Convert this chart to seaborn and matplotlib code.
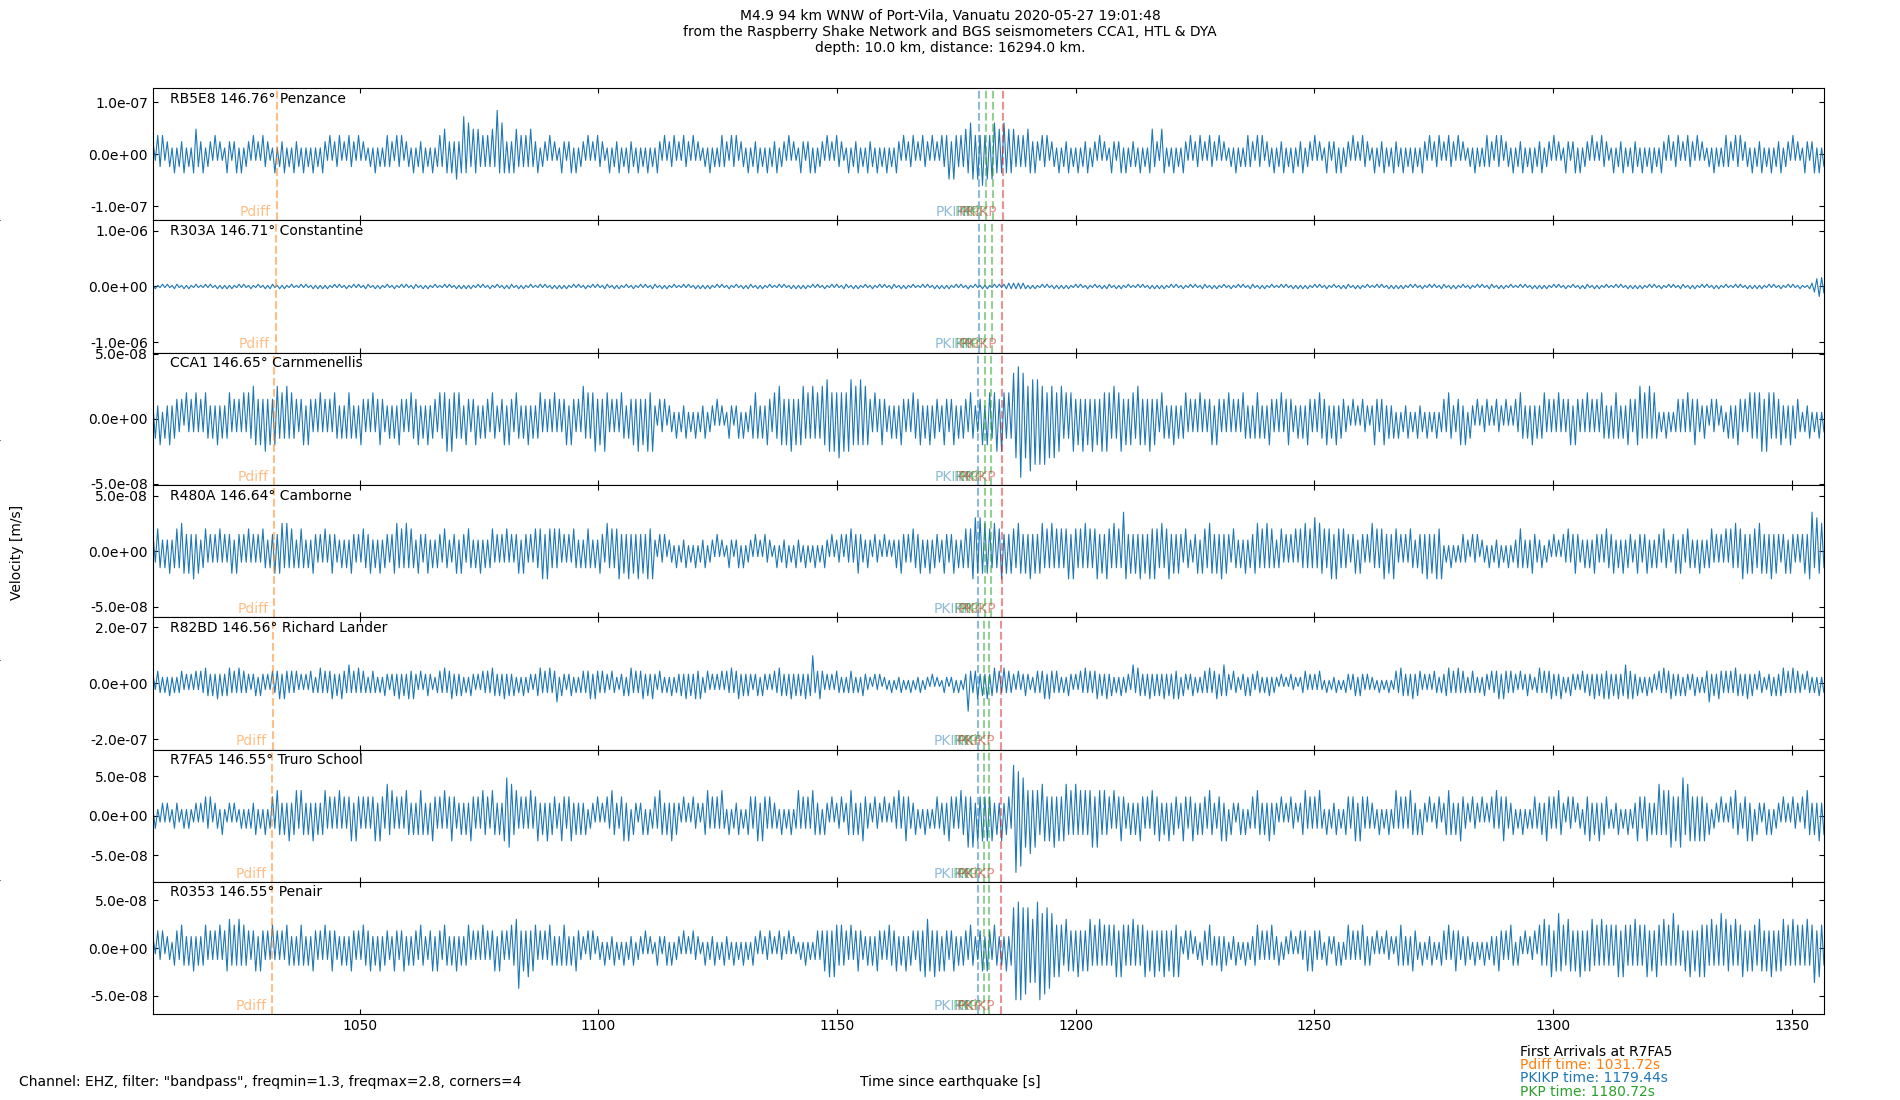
import numpy as np
import matplotlib
matplotlib.use("Agg")
import matplotlib.pyplot as plt
import seaborn as sns
from matplotlib.ticker import FormatStrFormatter

# ---------------- data ----------------
T_START = 1006.72
T_END = 1356.72

STATIONS = ["RB5E8", "R303A", "CCA1", "R480A", "R82BD", "R7FA5", "R0353"]
DISTANCES = [146.76, 146.71, 146.65, 146.64, 146.56, 146.55, 146.55]
PLACES = ["Penzance", "Constantine", "Carnmenellis", "Camborne",
          "Richard Lander", "Truro School", "Penair"]

# y-axis half range and tick value per station (m/s)
Y_HALF = [1.27e-7, 1.19e-6, 5.08e-8, 5.95e-8, 2.36e-7, 8.4e-8, 6.9e-8]
Y_TICK = [1.0e-7, 1.0e-6, 5.0e-8, 5.0e-8, 2.0e-7, 5.0e-8, 5.0e-8]

# arrival times per station (s)
PDIFF = [1032.65, 1032.43, 1032.16, 1032.12, 1031.76, 1031.72, 1031.72]
PKIKP = [1179.84, 1179.74, 1179.63, 1179.61, 1179.46, 1179.44, 1179.44]
PKP_A = [1181.20, 1181.08, 1180.95, 1180.93, 1180.74, 1180.72, 1180.72]
PKP_B = [1182.70, 1182.48, 1182.23, 1182.19, 1181.84, 1181.80, 1181.80]
PKIKP_INNER = [1184.75, 1184.63, 1184.49, 1184.46, 1184.27, 1184.25, 1184.25]

# peak amplitudes, one digit per half second
# (successive peaks alternate in sign), in units of AMP_UNIT (m/s)
AMP_UNIT = [1.2e-8, 2.0e-8, 5.0e-9, 5.0e-9, 1.1e-8, 8.0e-9, 6.0e-9]

TRACE_RB5E8 = [
    "2132312213", "1223121342", "2312213121", "1321231312", "2131213221",
    "1312231213", "2213121312", "1321312231", "2132213121", "1213121232",
    "2132312213", "1223121312", "3243232423", "6352434232", "3242735323",
    "2342323242", "2312213121", "1321231312", "2131213221", "1312231213",
    "2213121312", "1321312231", "2132213121", "1213121232", "2132312213",
    "1223121312", "2312213121", "1321231312", "2131213221", "1312231213",
    "2213121312", "1321312231", "2132213121", "3234243232", "4354343534",
    "3453435343", "4232324323", "2132312213", "1223121312", "2312213121",
    "1321231312", "2213121342", "2143121312", "1321312231", "2132213121",
    "1213121232", "2132312213", "1223121312", "2312213121", "1321231312",
    "2131213221", "1312231213", "2213121312", "1321312231", "2132213121",
    "1213121232", "2132312213", "1223121312", "2312213121", "1321231312",
    "2131213221", "1312231213", "2213121312", "1321312231", "2132213121",
    "1213121232", "2132312213", "1223121312", "2312213121", "1321231312"]
TRACE_R303A = [
    "1211212112", "2112121121", "1121211212", "1212112121", "1211211212",
    "2112121121", "1121211212", "1212112121", "1211212112", "2112121121",
    "1211212112", "2112121121", "1121211212", "1212112121", "1211211212",
    "2112121121", "1121211212", "1212112121", "1211212112", "2112121121",
    "1211212112", "2112121121", "1121211212", "1212112121", "1211211212",
    "2112121121", "1121211212", "1212112121", "1211212112", "2112121121",
    "1211212112", "2112121121", "1121211212", "1212112121", "1211211212",
    "1121212232", "3232321212", "1121211212", "1212112121", "1211211212",
    "2112121121", "1121211212", "1212112121", "1211212112", "2112121121",
    "1211212112", "2112121121", "1121211212", "1212112121", "1211211212",
    "2112121121", "1121211212", "1212112121", "1211212112", "2112121121",
    "1211212112", "2112121121", "1121211212", "1212112121", "1211211212",
    "2112121121", "1121211212", "1212112121", "1211212112", "2112121121",
    "2112121121", "1121211212", "1212112121", "1211212112", "1112357986"]
TRACE_CCA1 = [
    "2324132423", "3231423242", "3243232423", "2342323242", "4354343534",
    "3453435343", "3234243232", "4232324323", "2343232432", "3242343223",
    "2324323243", "3423242332", "4345354343", "2432342323", "3243223424",
    "3243232423", "2342323242", "3234243232", "5343453435", "4232324323",
    "3435343545", "2132312213", "1223121312", "2312213121", "1321231312",
    "2343232432", "4354343534", "3453435343", "5465454645", "4564546454",
    "3242343223", "2324323243", "3423242332", "2432342323", "3243223424",
    "4345354343", "7689765867", "6757465645", "5343453435", "3435343545",
    "4353453434", "4354343534", "3243232423", "2342323242", "3234243232",
    "4232324323", "2343232432", "3242343223", "2324323243", "3423242332",
    "2131213221", "2432342323", "1312231213", "2213121312", "3243223424",
    "1321312231", "2132213121", "3243232423", "2342323242", "3234243232",
    "4232324323", "2343232432", "3453435343", "1213121232", "3242343223",
    "2132312213", "2324323243", "4345354343", "3423242332", "1223121312"]
TRACE_R480A = [
    "3243232423", "4354343534", "2342323242", "3234243232", "4232324323",
    "3434535343", "2343232432", "3242343223", "2324323243", "3423242332",
    "3453435343", "2432342323", "3243223424", "3243232423", "2342323242",
    "3234243232", "4345354343", "4232324323", "2343232432", "5343453435",
    "3435343545", "2132312213", "1223121312", "2312213121", "1321231312",
    "2131213221", "1312231213", "2213121312", "1321312231", "3242343223",
    "2132213121", "2324323243", "3423242332", "2432342323", "4345646454",
    "4353453434", "4354343534", "3453435343", "4345354343", "5343453435",
    "4353437534", "3435343545", "4353453434", "3243223424", "4354343534",
    "3243232423", "3453435343", "2342323242", "4353436354", "4345354343",
    "3234243232", "5343453435", "4232324323", "3435343545", "1213121232",
    "2132312213", "1223121312", "2343232432", "2312213121", "3242343223",
    "2324323243", "3423242332", "2432342323", "3243223424", "3243232423",
    "2342323242", "4353453434", "4354343534", "3234243232", "3435736453"]
TRACE_R82BD = [
    "3243232423", "2342323242", "4354343534", "3453435343", "3234243232",
    "4345354343", "4232324323", "5343453435", "4363435343", "2343232432",
    "3435343545", "3242343223", "4353453434", "2324323243", "4354343534",
    "3423242332", "3453435346", "2432342323", "4345354343", "3243223424",
    "5343453435", "3243232423", "3435343545", "2342323242", "4353453434",
    "3234243232", "4354343534", "3435349345", "4232324323", "2343232432",
    "2132312213", "1223121312", "2312213121", "1321231312", "3943453435",
    "3453435343", "3242343223", "4345354343", "2324323243", "5343453435",
    "3423242332", "6354343534", "3435343545", "2432342323", "4353453464",
    "3243223424", "3243232423", "2131213221", "2342323242", "1312231213",
    "3234243232", "2213121312", "4354343534", "4232324323", "3453435343",
    "2343232432", "4345354343", "3242343223", "5343453435", "2324323243",
    "3435343545", "3435346545", "3423242332", "4353453434", "2432342323",
    "4634354343", "4354343534", "3243223424", "3453435343", "3243232423"]
TRACE_R7FA5 = [
    "1211212112", "2112121121", "2132312213", "1121211212", "1223121312",
    "3243232423", "4243232423", "2342323242", "3234243232", "3234243253",
    "4232324323", "2343232432", "3242343223", "2324323243", "3243232465",
    "5342323242", "3423242332", "2432342323", "2312213121", "3243223424",
    "1321231312", "3243232423", "2131213221", "2342323242", "1312231213",
    "3234243232", "2213121312", "4232324323", "1321312231", "2343232432",
    "2132213121", "3242343223", "1213121232", "2324323243", "3535243434",
    "3423242332", "8978654645", "4354343534", "3453435343", "4345354343",
    "3242343223", "2324323243", "3423242332", "2432342323", "3243223424",
    "1321231312", "3243232423", "2131213221", "2342323242", "1312231213",
    "3234243232", "2213121312", "4232324323", "1321312231", "2343232432",
    "2132213121", "3242343223", "1213121232", "2324323243", "2132312213",
    "3423242332", "1223121312", "2432342323", "5343453435", "6354343434",
    "2312213121", "3243223424", "1321231312", "2131213221", "3243232423"]
TRACE_R0353 = [
    "2132312213", "3243232423", "2342323242", "3453435343", "3234243232",
    "4232324323", "2343232432", "3242343223", "2324323243", "3423242332",
    "2432342323", "3243223424", "3243232423", "2342323242", "3234243232",
    "4357343534", "4232324323", "2343232432", "2132312213", "1223121312",
    "2312213121", "1321231312", "2131213221", "1312231213", "2213121312",
    "1321312231", "2132213121", "1213121232", "3435354343", "3242343223",
    "2324323243", "3423242332", "3435543534", "2432342323", "3243223424",
    "3243232423", "7989787656", "8968776545", "4354343534", "3453435343",
    "4345354343", "5343453435", "3435343545", "2132312213", "3243232423",
    "1223121312", "2342323242", "2312213121", "3234243232", "1321231312",
    "4232324323", "2131213221", "2343232432", "1312231213", "3242343223",
    "2213121312", "2324323243", "1321312231", "4353453464", "4354343534",
    "3453435343", "4345354343", "5343453435", "4353436343", "3435343545",
    "4353436354", "4353453434", "4354343534", "3453435343", "4353463543"]

TRACES = [TRACE_RB5E8, TRACE_R303A, TRACE_CCA1, TRACE_R480A,
          TRACE_R82BD, TRACE_R7FA5, TRACE_R0353]

X_TICKS = [1050, 1100, 1150, 1200, 1250, 1300, 1350]

TITLE = ("M4.9 94 km WNW of Port-Vila, Vanuatu 2020-05-27 19:01:48\n"
         "from the Raspberry Shake Network and BGS seismometers CCA1, HTL & DYA\n"
         "depth: 10.0 km, distance: 16294.0 km.")
FOOTER = 'Channel: EHZ, filter: "bandpass", freqmin=1.3, freqmax=2.8, corners=4'

# ---------------- style ----------------
sns.set_theme(context="notebook", style="ticks", rc={
    "font.size": 10, "xtick.labelsize": 10, "ytick.labelsize": 10,
    "axes.labelsize": 10, "axes.titlesize": 10,
    "xtick.direction": "in", "ytick.direction": "in",
    "xtick.top": True, "ytick.right": True,
    "axes.edgecolor": "black", "axes.linewidth": 0.8,
    "xtick.major.width": 0.8, "ytick.major.width": 0.8,
    "xtick.major.size": 3.5, "ytick.major.size": 3.5,
    "xtick.major.pad": 3.5, "ytick.major.pad": 3.5,
    "xtick.color": "black", "ytick.color": "black", "text.color": "black",
    "axes.labelcolor": "black",
})
plt.rcParams["font.family"] = ["DejaVu Sans"]

C0, C1, C2, C3 = "#1f77b4", "#ff7f0e", "#2ca02c", "#d62728"
PHASES = [("Pdiff", PDIFF, C1), ("PKIKP", PKIKP, C0), ("PKP", PKP_A, C2),
          ("PKP", PKP_B, C2), ("PKiKP", PKIKP_INNER, C3)]


def decode(chunks, unit):
    digits = [int(c) for c in "".join(chunks)]
    return np.array([d * unit * (1 if k % 2 == 0 else -1)
                     for k, d in enumerate(digits)])


fig, axes = plt.subplots(7, 1, sharex=True, figsize=(19, 11), dpi=100)
fig.subplots_adjust(left=0.0805, right=0.96, top=0.92, bottom=0.078, hspace=0)

for i, ax in enumerate(axes):
    vals = decode(TRACES[i], AMP_UNIT[i])
    time = np.linspace(T_START, T_END, len(vals))
    sns.lineplot(x=time, y=vals, ax=ax, color=C0, linewidth=0.8,
                 estimator=None, sort=False)
    ax.set_xlim(T_START, T_END)
    ax.set_ylim(-Y_HALF[i], Y_HALF[i])
    ax.set_yticks([-Y_TICK[i], 0, Y_TICK[i]])
    ax.yaxis.set_major_formatter(FormatStrFormatter("%.1e"))
    ax.set_xlabel("")
    ax.set_ylabel("")
    ax.text(0.01, 0.92, f"{STATIONS[i]} {DISTANCES[i]:.2f}° {PLACES[i]}",
            transform=ax.transAxes, ha="left", va="center", fontsize=10)
    for name, times, col in PHASES:
        t = times[i]
        ax.axvline(t, color=col, ls="--", lw=1.5, alpha=0.5)
        ax.annotate(name, xy=(t, 0.01), xycoords=("data", "axes fraction"),
                    xytext=(-4, 0), textcoords="offset points",
                    ha="right", va="bottom", color=col, alpha=0.5, fontsize=10)

axes[-1].set_xticks(X_TICKS)
axes[-1].set_xticklabels([str(v) for v in X_TICKS])

# background frame axis (only its tick stubs at the left edge)
ax_bg = fig.add_axes([0, 0, 1, 1], frameon=False, zorder=-1)
ax_bg.set_xticks([])
ax_bg.set_yticks([0.2, 0.4, 0.6, 0.8])
ax_bg.tick_params(axis="y", direction="out", labelleft=False, right=False,
                  color="black")
ax_bg.set_xlim(0, 1)
ax_bg.set_ylim(0, 1)

fig.suptitle(TITLE, fontsize=10, y=0.992, va="top")
fig.text(0.009, 0.498, "Velocity [m/s]", rotation=90, ha="center", va="center",
         fontsize=10)
fig.text(0.5, 0.0164, "Time since earthquake [s]", ha="center", va="center",
         fontsize=10)
fig.text(0.01, 0.0164, FOOTER, ha="left", va="center", fontsize=10)

fig.text(0.8, 0.0436, "First Arrivals at R7FA5", ha="left", va="center",
         fontsize=10, color="black")
fig.text(0.8, 0.0318, f"Pdiff time: {PDIFF[5]:.2f}s", ha="left", va="center",
         fontsize=10, color=C1)
fig.text(0.8, 0.0200, f"PKIKP time: {PKIKP[5]:.2f}s", ha="left", va="center",
         fontsize=10, color=C0)
fig.text(0.8, 0.0073, f"PKP time: {PKP_A[5]:.2f}s", ha="left", va="center",
         fontsize=10, color=C2)

fig.savefig("out.png", dpi=100)
